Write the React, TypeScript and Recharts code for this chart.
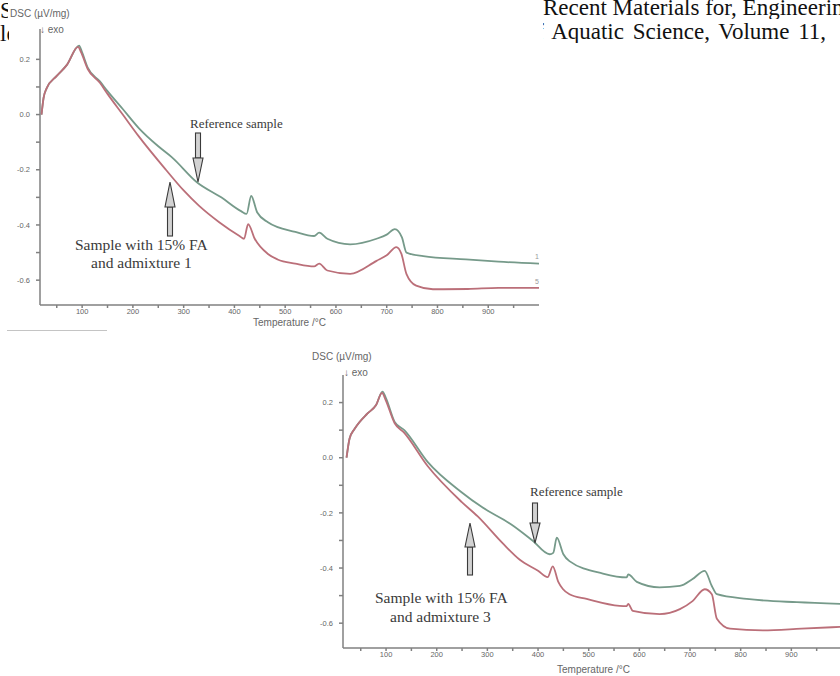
import React from 'react';
import { Line, LineChart, XAxis, YAxis } from 'recharts';

// upper panel: reference sample vs sample with 15% FA and admixture 1
const refTemp1 = [20, 24, 30, 50, 70, 94, 100, 111, 135, 150, 180, 212, 250, 277, 326, 374, 413, 424, 433, 445, 466, 520, 557, 567, 583, 628, 680, 700, 716, 730, 739, 772, 856, 920, 1000];
const refDsc1 = [0.0, 0.06, 0.095, 0.14, 0.18, 0.25, 0.225, 0.17, 0.12, 0.085, 0.02, -0.05, -0.115, -0.155, -0.245, -0.3, -0.35, -0.36, -0.295, -0.355, -0.39, -0.425, -0.44, -0.428, -0.45, -0.47, -0.45, -0.435, -0.415, -0.445, -0.5, -0.513, -0.525, -0.533, -0.54];
const mixTemp1 = [20, 24, 30, 50, 70, 92, 98, 111, 135, 150, 180, 212, 265, 300, 330, 370, 410, 419, 427, 440, 466, 485, 520, 557, 567, 583, 628, 680, 700, 719, 729, 739, 758, 791, 860, 920, 1000];
const mixDsc1 = [0.0, 0.06, 0.095, 0.14, 0.18, 0.245, 0.225, 0.165, 0.115, 0.075, 0.0, -0.08, -0.2, -0.275, -0.33, -0.39, -0.44, -0.45, -0.397, -0.45, -0.505, -0.525, -0.54, -0.55, -0.54, -0.565, -0.577, -0.53, -0.51, -0.48, -0.505, -0.578, -0.62, -0.633, -0.632, -0.628, -0.628];

// lower panel: reference sample vs sample with 15% FA and admixture 3
const refTemp2 = [22, 28, 38, 63, 80, 93, 100, 117, 136, 182, 249, 290, 348, 389, 423, 430, 437, 450, 462, 528, 575, 578, 595, 640, 680, 705, 729, 743, 753, 812, 911, 1000];
const refDsc2 = [0.0, 0.07, 0.105, 0.16, 0.19, 0.24, 0.215, 0.13, 0.1, -0.015, -0.125, -0.18, -0.243, -0.3, -0.35, -0.345, -0.29, -0.35, -0.375, -0.42, -0.434, -0.423, -0.45, -0.47, -0.465, -0.44, -0.41, -0.465, -0.495, -0.512, -0.524, -0.53];
const mixTemp2 = [22, 28, 38, 63, 80, 92, 99, 117, 136, 182, 249, 281, 330, 364, 400, 419, 429, 440, 449, 462, 496, 561, 575, 578, 587, 640, 680, 705, 729, 743, 753, 779, 844, 920, 1000];
const mixDsc2 = [0.0, 0.07, 0.105, 0.16, 0.19, 0.235, 0.21, 0.125, 0.09, -0.03, -0.16, -0.213, -0.31, -0.37, -0.41, -0.433, -0.394, -0.45, -0.476, -0.495, -0.512, -0.537, -0.538, -0.53, -0.555, -0.567, -0.549, -0.52, -0.477, -0.495, -0.584, -0.62, -0.626, -0.62, -0.613];

const tempTicks = [50, 100, 150, 200, 250, 300, 350, 400, 450, 500, 550, 600, 650, 700, 750, 800, 850, 900, 950];
const dscTicks = [-0.6, -0.5, -0.4, -0.3, -0.2, -0.1, 0, 0.1, 0.2];

const REF_COLOR = '#769a8a';
const MIX_COLOR = '#bb6f79';
const AXIS = '#808080';
const serif = '"Liberation Serif", "Times New Roman", serif';
const sans = '"Liberation Sans", Arial, sans-serif';

const zip = (t: number[], v: number[]) => t.map((temp, i) => ({ temp, dsc: v[i] }));

const tempLabel = (v: number) => (v % 100 === 0 ? String(v) : '');
const dscLabel = (v: number) => (Math.round(v * 10) % 2 === 0 ? v.toFixed(1) : '');

type PanelProps = {
  refData: { temp: number; dsc: number }[];
  mixData: { temp: number; dsc: number }[];
  width: number;
  height: number;
  margin: { top: number; right: number; left: number; bottom: number };
  yWidth: number;
  xDomain: [number, number];
  yDomain: [number, number];
};

function DscPanel({ refData, mixData, width, height, margin, yWidth, xDomain, yDomain }: PanelProps) {
  const tick = { fill: '#666', fontSize: 7.5, fontFamily: sans };
  return (
    <LineChart width={width} height={height} margin={margin}>
      <XAxis
        type="number"
        dataKey="temp"
        domain={xDomain}
        allowDataOverflow
        ticks={tempTicks}
        tickFormatter={tempLabel}
        tick={tick}
        tickSize={3}
        tickMargin={1}
        height={20}
        stroke={AXIS}
        strokeWidth={1.5}
      />
      <YAxis
        type="number"
        dataKey="dsc"
        domain={yDomain}
        allowDataOverflow
        ticks={dscTicks}
        tickFormatter={dscLabel}
        tick={tick}
        tickSize={4}
        tickMargin={6}
        width={yWidth}
        stroke={AXIS}
        strokeWidth={1.5}
      />
      <Line data={refData} dataKey="dsc" type="monotone" stroke={REF_COLOR} strokeWidth={1.8} dot={false} isAnimationActive={false} />
      <Line data={mixData} dataKey="dsc" type="monotone" stroke={MIX_COLOR} strokeWidth={1.8} dot={false} isAnimationActive={false} />
    </LineChart>
  );
}

function Arrow({ x, from, head, tip }: { x: number; from: number; head: number; tip: number }) {
  return (
    <g fill="#d2d2d2" stroke="#3a3a3a" strokeWidth={1.1}>
      <rect x={x - 2.5} y={Math.min(from, head)} width={5} height={Math.abs(head - from)} />
      <polygon points={`${x - 5},${head} ${x + 5},${head} ${x},${tip}`} />
    </g>
  );
}

const refNote: React.CSSProperties = { position: 'absolute', fontFamily: serif, fontSize: 13, color: '#3a3a3a', whiteSpace: 'nowrap', lineHeight: '16px' };
const mixNote: React.CSSProperties = { ...refNote, fontSize: 15.5, lineHeight: '18px' };
const small: React.CSSProperties = { position: 'absolute', fontFamily: sans, fontSize: 10, color: '#666', whiteSpace: 'nowrap', lineHeight: '12px' };
const page: React.CSSProperties = { position: 'absolute', fontFamily: serif, fontSize: 23, color: '#111', whiteSpace: 'nowrap', lineHeight: '22px', overflow: 'hidden' };

export default function App() {
  return (
    <div style={{ position: 'absolute', left: 0, top: 0, width: 840, height: 676, overflow: 'hidden', background: '#fff' }}>
      <div style={{ ...page, left: 0, top: 0, width: 8 }}>S</div>
      <div style={{ ...page, left: 0, top: 23, width: 9 }}>le</div>
      <div style={{ ...page, left: 543, top: -3, width: 297 }}>Recent Materials for, Engineering</div>
      <div style={{ ...page, left: 543, top: 21, width: 297 }}>
        <span style={{ marginLeft: -7, wordSpacing: 3 }}>f Aquatic Science, Volume 11,</span>
      </div>

      <div style={{ position: 'absolute', left: 0, top: 0 }}>
        <DscPanel
          refData={zip(refTemp1, refDsc1)}
          mixData={zip(mixTemp1, mixDsc1)}
          width={560}
          height={340}
          margin={{ top: 29, right: 21, left: 0, bottom: 15 }}
          yWidth={40}
          xDomain={[17, 1000]}
          yDomain={[-0.69, 0.31]}
        />
      </div>
      <div style={{ position: 'absolute', left: 300, top: 340 }}>
        <DscPanel
          refData={zip(refTemp2, refDsc2)}
          mixData={zip(mixTemp2, mixDsc2)}
          width={560}
          height={336}
          margin={{ top: 35, right: 18, left: 0, bottom: 8 }}
          yWidth={43}
          xDomain={[15, 1000]}
          yDomain={[-0.69, 0.3]}
        />
      </div>

      <div style={{ position: 'absolute', left: 7, top: 330, width: 100, height: 1, background: '#c4c4c4' }} />

      <div style={{ ...small, left: 10, top: 8 }}>DSC (µV/mg)</div>
      <div style={{ ...small, left: 40, top: 24 }}>↓ exo</div>
      <div style={{ ...small, left: 253, top: 317 }}>Temperature /°C</div>
      <div style={{ ...small, left: 312, top: 351 }}>DSC (µV/mg)</div>
      <div style={{ ...small, left: 344, top: 367 }}>↓ exo</div>
      <div style={{ ...small, left: 557, top: 664 }}>Temperature /°C</div>
      <div style={{ ...small, left: 535, top: 251, fontSize: 7, color: '#999' }}>1</div>
      <div style={{ ...small, left: 535, top: 276, fontSize: 7, color: '#999' }}>5</div>

      <div style={{ ...refNote, left: 190, top: 116 }}>Reference sample</div>
      <div style={{ ...mixNote, left: 75, top: 236 }}>Sample with 15% FA</div>
      <div style={{ ...mixNote, left: 91, top: 254 }}>and admixture 1</div>
      <div style={{ ...refNote, left: 530, top: 484 }}>Reference sample</div>
      <div style={{ ...mixNote, left: 375, top: 589 }}>Sample with 15% FA</div>
      <div style={{ ...mixNote, left: 390, top: 608 }}>and admixture 3</div>

      <svg width={840} height={676} style={{ position: 'absolute', left: 0, top: 0, pointerEvents: 'none' }}>
        <Arrow x={198} from={133} head={158} tip={182} />
        <Arrow x={170} from={236} head={207} tip={182} />
        <Arrow x={535} from={503} head={523} tip={543} />
        <Arrow x={470} from={575} head={547} tip={523} />
      </svg>
    </div>
  );
}
